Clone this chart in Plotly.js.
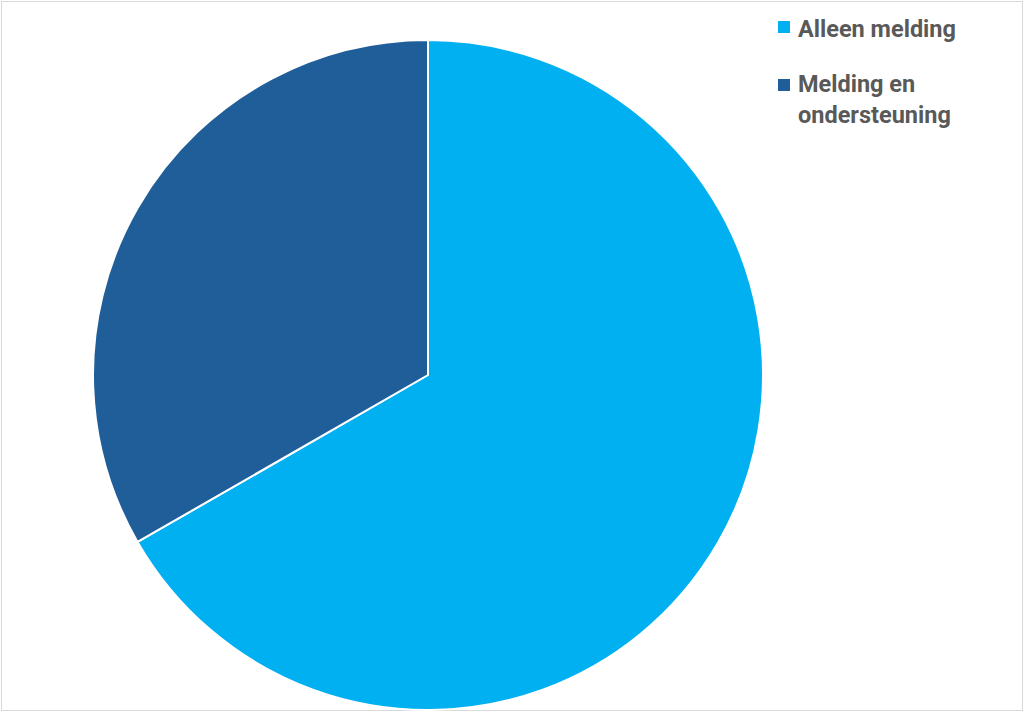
<!DOCTYPE html>
<html>
<head>
<meta charset="utf-8">
<script src="https://cdn.plot.ly/plotly-3.0.1.min.js"></script>
<style>
  html, body { margin: 0; padding: 0; background: #ffffff; }
  #frame { position: absolute; left: 1px; top: 1px; width: 1020px; height: 708px; border: 1px solid #d9d9d9; }
  #chart { position: absolute; left: -2px; top: -2px; width: 1024px; height: 712px; }
</style>
</head>
<body>
<div id="frame"><div id="chart"></div></div>
<script>
const categories = ["Alleen melding", "Melding en ondersteuning"];
const legendLabels = ["Alleen melding", "Melding en<br>ondersteuning"];
const values = [66.7, 33.3];
const colors = ["#00B0F0", "#1F5E99"];

const W = 1024, H = 712;
const cx = 428, cy = 375, r = 335;

const trace = {
  type: "pie",
  labels: categories,
  values: values,
  sort: false,
  direction: "clockwise",
  rotation: 0,
  textinfo: "none",
  hoverinfo: "label+percent",
  marker: { colors: colors, line: { color: "#ffffff", width: 2 } },
  domain: {
    x: [(cx - r) / W, (cx + r) / W],
    y: [1 - (cy + r) / H, 1 - (cy - r) / H]
  },
  showlegend: false
};

// manual legend built from the category arrays
const markerY = [27, 85];
const textTop = [12.5, 68.5];
const shapes = [];
const annotations = [];
categories.forEach((c, i) => {
  shapes.push({
    type: "rect", xref: "paper", yref: "paper",
    x0: 778 / W, x1: 790 / W,
    y0: 1 - (markerY[i] + 6) / H, y1: 1 - (markerY[i] - 6) / H,
    fillcolor: colors[i], line: { width: 0 }
  });
  annotations.push({
    xref: "paper", yref: "paper",
    x: 796 / W, y: 1 - textTop[i] / H,
    xanchor: "left", yanchor: "top", align: "left",
    text: legendLabels[i], showarrow: false,
    font: { family: "Roboto, 'Open Sans', sans-serif", size: 23.5, color: "#595959", weight: "bold" }
  });
});

const layout = {
  width: W, height: H,
  margin: { l: 0, r: 0, t: 0, b: 0 },
  paper_bgcolor: "rgba(0,0,0,0)",
  plot_bgcolor: "rgba(0,0,0,0)",
  showlegend: false,
  shapes: shapes,
  annotations: annotations
};

Plotly.newPlot("chart", [trace], layout, { displayModeBar: false, staticPlot: true });
</script>
</body>
</html>
